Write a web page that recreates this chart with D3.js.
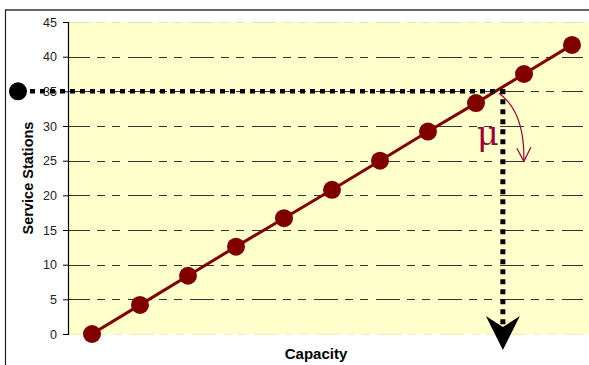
<!DOCTYPE html>
<html>
<head>
<meta charset="utf-8">
<script src="https://cdn.jsdelivr.net/npm/d3@7"></script>
<style>
  body { margin: 0; background: #fff; }
  svg { display: block; font-family: Arial, "Liberation Sans", sans-serif; }
</style>
</head>
<body>
<script>
// capacity steps (no labels on the x axis) and service stations
const capacity = [0, 1, 2, 3, 4, 5, 6, 7, 8, 9, 10];
const stations = [0, 4.2, 8.4, 12.6, 16.7, 20.8, 25, 29.2, 33.3, 37.5, 41.7];
const yTicks = [0, 5, 10, 15, 20, 25, 30, 35, 40, 45];
const targetStations = 35;
const targetCapacity = 8.56;

const width = 589, height = 365;
const plot = {left: 68, right: 589, top: 22, bottom: 334};

const svg = d3.select("body").append("svg")
    .attr("width", width)
    .attr("height", height);

const x = d3.scaleLinear().domain([0, 10]).range([92, 572]);
const y = d3.scaleLinear().domain([0, 45]).range([plot.bottom, plot.top]);

// outer frame (top + left only visible)
svg.append("line").attr("x1", 5).attr("x2", width).attr("y1", 10).attr("y2", 10)
    .attr("stroke", "#333").attr("stroke-width", 1.5);
svg.append("line").attr("x1", 5.5).attr("x2", 5.5).attr("y1", 10).attr("y2", height)
    .attr("stroke", "#222").attr("stroke-width", 1.2);

// plot background
svg.append("rect")
    .attr("x", plot.left).attr("y", plot.top)
    .attr("width", plot.right - plot.left).attr("height", plot.bottom - plot.top)
    .attr("fill", "#ffffcc");

// gridlines
svg.append("g").selectAll("line")
  .data(yTicks.filter(d => d > 0))
  .join("line")
    .attr("x1", plot.left).attr("x2", 583)
    .attr("y1", d => Math.round(y(d)) + 0.5).attr("y2", d => Math.round(y(d)) + 0.5)
    .attr("stroke", d => d === 45 ? "#e6e4b0" : "#333")
    .attr("stroke-width", 1.2)
    .attr("stroke-dasharray", "24 7 8 7 8 8")
    .attr("stroke-dashoffset", 2);
svg.append("line")
    .attr("x1", plot.left).attr("x2", 583)
    .attr("y1", plot.bottom + 0.5).attr("y2", plot.bottom + 0.5)
    .attr("stroke", "#f0eec0").attr("stroke-dasharray", "24 7 8 7 8 8");

// y axis
const yAxis = svg.append("g")
    .attr("transform", `translate(${plot.left},0)`)
    .call(d3.axisLeft(y).tickValues(yTicks).tickSize(5).tickPadding(6));
yAxis.select(".domain").attr("stroke", "#000").attr("stroke-width", 1.2);
yAxis.selectAll(".tick line").attr("stroke", "#000");
yAxis.selectAll(".tick text")
    .attr("font-size", 12.5).attr("fill", "#222")
    .attr("font-family", "Arial, 'Liberation Sans', sans-serif");

// axis titles
svg.append("text")
    .attr("transform", `translate(33,${(plot.top + plot.bottom) / 2}) rotate(-90)`)
    .attr("text-anchor", "middle")
    .attr("font-size", 14.5).attr("font-weight", "bold")
    .text("Service Stations");
svg.append("text")
    .attr("x", 316).attr("y", 359)
    .attr("text-anchor", "middle")
    .attr("font-size", 15).attr("font-weight", "bold")
    .text("Capacity");

// data line and points
const line = d3.line().x((d, i) => x(capacity[i])).y(d => y(d));
svg.append("path")
    .datum(stations)
    .attr("d", line)
    .attr("fill", "none")
    .attr("stroke", "#800000")
    .attr("stroke-width", 3);

svg.append("g").selectAll("circle")
  .data(stations)
  .join("circle")
    .attr("cx", (d, i) => x(capacity[i]))
    .attr("cy", d => y(d))
    .attr("r", 9)
    .attr("fill", "#800000");

// target level marker and dotted guides
const ty = y(targetStations), tx = x(targetCapacity);
svg.append("circle").attr("cx", 18).attr("cy", ty).attr("r", 9).attr("fill", "#000");
svg.append("line")
    .attr("x1", 30).attr("x2", tx + 2)
    .attr("y1", ty).attr("y2", ty)
    .attr("stroke", "#000").attr("stroke-width", 4.5)
    .attr("stroke-dasharray", "5 5");
svg.append("line")
    .attr("x1", tx).attr("x2", tx)
    .attr("y1", ty - 2).attr("y2", y(0) - 8)
    .attr("stroke", "#000").attr("stroke-width", 5)
    .attr("stroke-dasharray", "5 5");
svg.append("path")
    .attr("d", `M${tx - 17},${y(0) - 18} L${tx},${y(0) + 16} L${tx + 17},${y(0) - 18} L${tx},${y(0) - 7} Z`)
    .attr("fill", "#000");

// mu arc
svg.append("path")
    .attr("d", `M${tx - 4},${ty + 2} Q${tx + 22},${ty + 20} ${tx + 21},${ty + 70}`)
    .attr("fill", "none").attr("stroke", "#990033").attr("stroke-width", 1.2);
svg.append("path")
    .attr("d", `M${tx + 14},${ty + 57} L${tx + 21},${ty + 70} L${tx + 28},${ty + 56}`)
    .attr("fill", "none").attr("stroke", "#990033").attr("stroke-width", 1.2);
svg.append("text")
    .attr("x", tx - 15).attr("y", ty + 54)
    .attr("text-anchor", "middle")
    .attr("font-family", "'DejaVu Serif', 'Liberation Serif', serif")
    .attr("font-size", 34)
    .attr("fill", "#990033")
    .text("μ");
</script>
</body>
</html>
